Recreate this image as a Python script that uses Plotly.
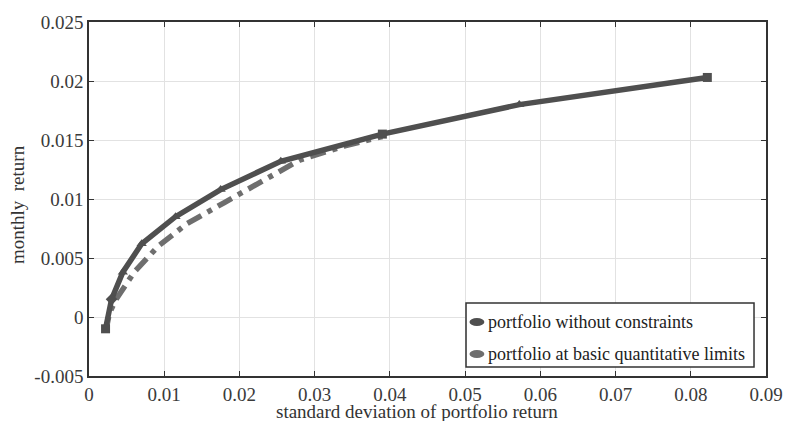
import plotly.graph_objects as go

# Series 1: portfolio without constraints
sd_free = [0.0022, 0.0030, 0.0045, 0.0070, 0.0115, 0.0175, 0.0255, 0.0390, 0.0572, 0.0822]
ret_free = [-0.0010, 0.0015, 0.0038, 0.0062, 0.0085, 0.0108, 0.0132, 0.0155, 0.0180, 0.0203]
sym_free = ["square", "diamond", "triangle-up", "triangle-up", "triangle-up", "triangle-up",
            "triangle-up", "square", "triangle-up", "square"]

# Series 2: portfolio at basic quantitative limits
sd_lim = [0.0022, 0.0027, 0.0035, 0.0045, 0.0060, 0.0092, 0.0130, 0.0180, 0.0229, 0.0280, 0.0340, 0.0390]
ret_lim = [-0.0013, 0.0003, 0.0014, 0.0024, 0.0038, 0.0060, 0.0079, 0.0097, 0.0114, 0.0133, 0.0145, 0.0153]

series_names = ["portfolio without constraints", "portfolio at basic quantitative limits"]
series_colors = ["#4f4f4f", "#6e6e6e"]

x_ticks = [0, 0.01, 0.02, 0.03, 0.04, 0.05, 0.06, 0.07, 0.08, 0.09]
x_labels = ["0", "0.01", "0.02", "0.03", "0.04", "0.05", "0.06", "0.07", "0.08", "0.09"]
y_ticks = [-0.005, 0, 0.005, 0.01, 0.015, 0.02, 0.025]
y_labels = ["-0.005", "0", "0.005", "0.01", "0.015", "0.02", "0.025"]

FONT = "Liberation Serif, Times New Roman, serif"

fig = go.Figure()
fig.add_trace(go.Scatter(
    x=sd_lim, y=ret_lim, mode="lines",
    name=series_names[1],
    line=dict(color=series_colors[1], width=5.5, dash="16px,7px,5px,7px"),
    showlegend=False,
))
fig.add_trace(go.Scatter(
    x=sd_free, y=ret_free, mode="lines+markers",
    name=series_names[0],
    line=dict(color=series_colors[0], width=5.5),
    marker=dict(symbol=sym_free, size=9, color=series_colors[0]),
    showlegend=False,
))

axis_common = dict(
    showgrid=True, gridcolor="#e2e2e2", gridwidth=1,
    showline=True, linecolor="#333333", linewidth=1.5, mirror="ticks",
    ticks="inside", ticklen=5, tickcolor="#333333",
    zeroline=False, automargin=False,
    tickfont=dict(family=FONT, size=19, color="#3a3a3a"),
)

# legend box drawn manually (paper coords)
shapes = [
    dict(type="rect", xref="paper", yref="paper", x0=0.5569, x1=0.9823, y0=0.0254, y1=0.2062,
         line=dict(color="#333333", width=1.5), fillcolor="white", layer="above"),
]
legend_rows_y = [0.1525, 0.0621]
annotations = []
for name, col, yy in zip(series_names, series_colors, legend_rows_y):
    shapes.append(dict(type="circle", xref="paper", yref="paper",
                       x0=0.5620, x1=0.5840, y0=yy - 0.0113, y1=yy + 0.0113,
                       fillcolor=col, line=dict(color=col, width=0), layer="above"))
    annotations.append(dict(text=name, xref="paper", yref="paper", x=0.5865, y=yy,
                            xanchor="left", yanchor="middle", showarrow=False,
                            font=dict(family=FONT, size=18, color="#222222")))

annotations.append(dict(text="standard deviation of portfolio return", xref="paper", yref="paper",
                        x=0.4845, y=-0.1010, xanchor="center", yanchor="middle", showarrow=False,
                        font=dict(family=FONT, size=19, color="#333333")))
annotations.append(dict(text="monthly  return", xref="paper", yref="paper",
                        x=-0.1063, y=0.483, xanchor="center", yanchor="middle", showarrow=False,
                        textangle=-90, font=dict(family=FONT, size=19, color="#333333")))

fig.update_layout(
    width=786, height=421,
    margin=dict(l=89, r=20, t=22, b=45),
    paper_bgcolor="white", plot_bgcolor="white",
    font=dict(family=FONT, color="#222222"),
    showlegend=False,
    shapes=shapes,
    annotations=annotations,
    xaxis=dict(range=[0, 0.09], tickvals=x_ticks, ticktext=x_labels,
               ticklabelstandoff=0, **axis_common),
    yaxis=dict(range=[-0.005, 0.025], tickvals=y_ticks, ticktext=y_labels,
               **axis_common),
)

fig.write_html("out.html")
